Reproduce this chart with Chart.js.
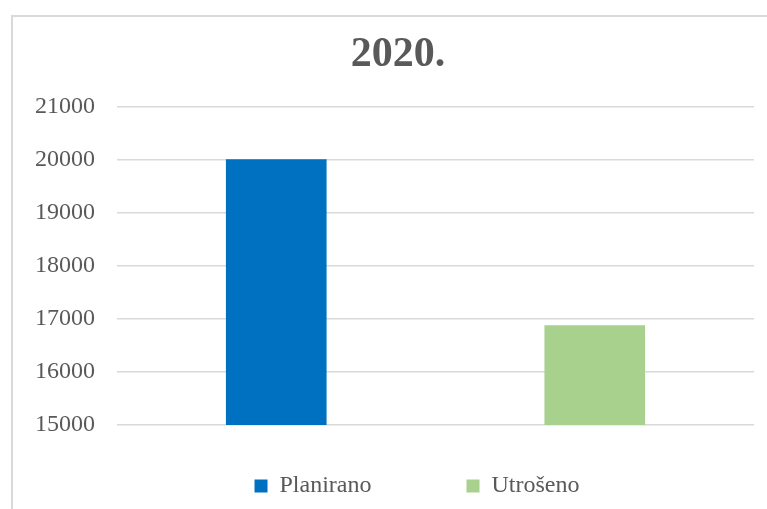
<!DOCTYPE html>
<html>
<head>
<meta charset="utf-8">
<script src="https://cdn.jsdelivr.net/npm/chart.js@4"></script>
<style>
html,body{margin:0;padding:0;background:#fff;overflow:hidden;}
#frame{position:absolute;left:11px;top:15px;width:900px;height:700px;border-left:2px solid #d9d9d9;border-top:2px solid #d9d9d9;}
#c{position:absolute;left:0;top:0;}
</style>
</head>
<body>
<div id="frame"></div>
<canvas id="c" width="767" height="509"></canvas>
<script>
const chartTitle = "2020.";
const categories = ["", ""];
const seriesNames = ["Planirano", "Utrošeno"];
const planirano = [20000, null];
const utroseno = [null, 16870];
const seriesColors = ["#0070c0", "#a9d18e"];
const yTicks = [15000, 16000, 17000, 18000, 19000, 20000, 21000];

const textColor = "#595959";
const fontFamily = "'Liberation Serif', serif";

// title and legend are not centred on the canvas in the original, nudge them
const boxPlace = {
  id: "boxPlace",
  afterLayout(chart){
    const t = chart.titleBlock;
    t.left += 11;
    t.right += 11;
    const lg = chart.legend;
    const pad = lg.options.labels.padding;
    lg.left += 30;
    lg.right += 30;
    lg.top = 474 - pad;
    lg.bottom = chart.height;
  }
};

new Chart(document.getElementById("c"), {
  type: "bar",
  data: {
    labels: categories,
    datasets: [
      {label: seriesNames[0], data: planirano, backgroundColor: seriesColors[0]},
      {label: seriesNames[1], data: utroseno, backgroundColor: seriesColors[1]}
    ]
  },
  options: {
    responsive: false,
    animation: false,
    grouped: false,
    barThickness: 100,
    layout: {padding: {left: 20, right: 13, top: 0, bottom: 0}},
    plugins: {
      title: {
        display: true,
        text: chartTitle,
        color: textColor,
        font: {family: fontFamily, size: 42, weight: "bold"},
        padding: {top: 30, bottom: 26}
      },
      legend: {
        position: "bottom",
        maxHeight: 84,
        labels: {
          color: textColor,
          font: {family: fontFamily, size: 24},
          boxWidth: 13,
          boxHeight: 13,
          padding: 95
        }
      },
      tooltip: {enabled: false}
    },
    scales: {
      x: {display: false},
      y: {
        min: yTicks[0],
        max: yTicks[yTicks.length - 1],
        afterBuildTicks(scale){
          scale.ticks = yTicks.map(v => ({value: v}));
        },
        afterFit(scale){
          scale.width = 97;
        },
        border: {display: false},
        grid: {color: "#d9d9d9", lineWidth: 1.5, drawTicks: false},
        ticks: {
          color: textColor,
          font: {family: fontFamily, size: 24},
          padding: 22,
          callback: v => String(v)
        }
      }
    }
  },
  plugins: [boxPlace]
});
</script>
</body>
</html>
